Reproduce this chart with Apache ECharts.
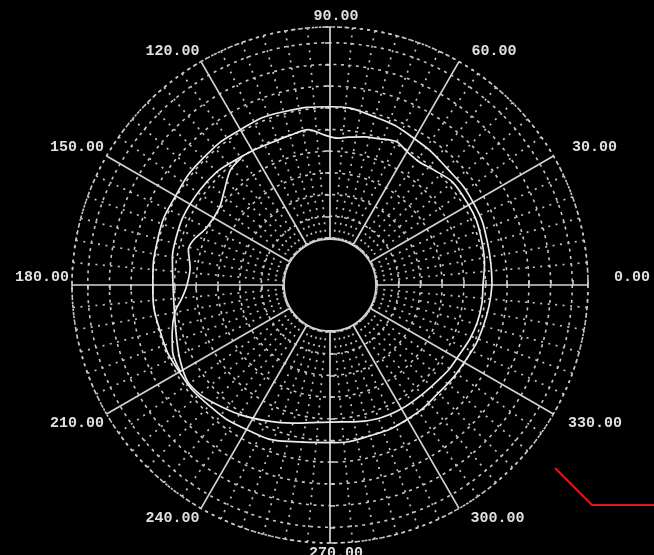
<!DOCTYPE html>
<html>
<head>
<meta charset="utf-8">
<script src="https://cdn.jsdelivr.net/npm/echarts@6/dist/echarts.min.js"></script>
<style>
html,body{margin:0;padding:0;background:#000;}
#chart{width:654px;height:555px;}
</style>
</head>
<body>
<div id="chart"></div>
<script>
// ---- data (radial unit: 20 per ring, 0 = edge of the centre hole) ----
const angleTickLabels = ['0.00','30.00','60.00','90.00','120.00','150.00','180.00','210.00','240.00','270.00','300.00','330.00'];

const outerAngles = [0,15,30,45,60,75,90,105,120,135,150,165,180,195,210,225,240,255,270,285,300,315,330,345,360];
const outerRadii  = [106,107,109,109,112.4,117,121,122,122,122,121,121,120,119,117,114,110.5,106,102,100.5,99.5,97.7,99.5,103,106];

const profileAngles = [0,8,16,24,30,40,48,54,60,65,72,77,83,87,92,98,105,112,120,128,135,144,155,163,170,180,190,200,207,214,220,226,235,245,255,262,270,280,290,300,310,318,325,332,339,346,353,360];
const profileRadii  = [97.7,100.5,102.3,104.2,104.2,104.2,99.5,96.8,98.6,102.3,98.6,96.8,94,92.2,94.9,101.4,99.5,98.6,99.5,101.4,104.2,105.1,106,105.1,104.2,101.4,102.3,106.9,111.5,115.2,113.4,108.8,102.3,94.9,88.5,84.8,83,84.8,87.6,88.5,88.5,89.4,91.2,92.2,94.9,96.8,97.7,97.7];

const innerAngles = [125,131,138,145,155,162,166,173,180,185,190,197,203,210];
const innerRadii  = [99.5,96.8,87.6,81.1,82,89.4,91.2,86.6,88.5,93.6,101.8,108.8,114.3,116];

// ---- layout / style ----
const CENTER = [330, 285];
const RADIUS = [47, 258];
const R_MIN = 0, R_MAX = 194.5, R_STEP = 20;
const GRID = '#d2d2d2';
const labelPads = [[0,0,16,23],[0,0,0,16],[0,0,0,11],[0,0,0,12],[0,0,0,0],[0,0,0,0],[0,0,16,0],[0,0,0,0],[0,0,0,0],[0,0,0,12],[0,0,0,10],[0,0,0,12]];
const FONT = {fontFamily:'Liberation Mono', fontSize:15, fontWeight:'bold', color:'#e0e0e0'};

const rich = {};
labelPads.forEach((p,i)=>{ rich['l'+i] = Object.assign({padding:p}, FONT); });

const polars = [{center:CENTER, radius:RADIUS}];
const angleAxes = [{
  polarIndex:0, type:'value', min:0, max:360, interval:30, startAngle:0, clockwise:false,
  axisLine:{show:true, lineStyle:{color:'#c8c8c8', width:1.6, type:[2.5,4.5]}},
  axisTick:{show:false},
  axisLabel:{show:true, margin:3, formatter:function(v){const i=Math.round(v/30)%12;return '{l'+i+'|'+angleTickLabels[i]+'}';}, rich:rich},
  splitLine:{show:true, lineStyle:{color:GRID, width:1.7, type:'solid'}},
  minorTick:{show:false, splitNumber:6},
  minorSplitLine:{show:true, lineStyle:{color:'#c0c0c0', width:1.7, type:[2,5.5]}}
}];
const radiusAxes = [{
  polarIndex:0, type:'value', min:R_MIN, max:R_MAX, interval:R_STEP,
  axisLine:{show:false}, axisTick:{show:false}, axisLabel:{show:false},
  splitLine:{show:true, lineStyle:{color:'#c8c8c8', width:1.6, type:[3,4.5]}}
}];

// tick marks on the four main spokes (both sides)
[0,90,180,270].forEach(a=>{
  [true,false].forEach(inside=>{
    const idx = polars.length;
    polars.push({center:CENTER, radius:RADIUS});
    angleAxes.push({polarIndex:idx, type:'value', min:0, max:360, startAngle:a, clockwise:false, show:false});
    radiusAxes.push({polarIndex:idx, type:'value', min:R_MIN, max:R_MAX, interval:R_STEP,
      axisLine:{show:false}, axisLabel:{show:false}, splitLine:{show:false},
      axisTick:{show:true, inside:inside, length:5, lineStyle:{color:GRID, width:1.5}}});
  });
});
// solid edge of the centre hole
{
  const idx = polars.length;
  polars.push({center:CENTER, radius:[0, RADIUS[0]-1]});
  angleAxes.push({polarIndex:idx, type:'value', min:0, max:360, startAngle:0,
    axisLine:{show:true, lineStyle:{color:GRID, width:1.8}}, axisTick:{show:false}, axisLabel:{show:false}, splitLine:{show:false}});
  radiusAxes.push({polarIndex:idx, type:'value', show:false});
}

function pairs(rs, as){ return rs.map((r,i)=>[r, as[i]]); }
const curveStyle = {color:'#ececec', width:1.7};

const option = {
  backgroundColor:'#000',
  animation:false,
  polar:polars,
  angleAxis:angleAxes,
  radiusAxis:radiusAxes,
  series:[
    {type:'line', coordinateSystem:'polar', polarIndex:0, data:pairs(outerRadii, outerAngles), smooth:0.5, showSymbol:false, lineStyle:curveStyle, z:5},
    {type:'line', coordinateSystem:'polar', polarIndex:0, data:pairs(profileRadii, profileAngles), smooth:0.3, showSymbol:false, lineStyle:curveStyle, z:5},
    {type:'line', coordinateSystem:'polar', polarIndex:0, data:pairs(innerRadii, innerAngles), smooth:0.3, showSymbol:false, lineStyle:curveStyle, z:5}
  ],
  graphic:[{type:'polyline', shape:{points:[[555,468],[592,505],[654,505]]}, style:{stroke:'#e01818', lineWidth:2, fill:null}, silent:true}]
};

const chart = echarts.init(document.getElementById('chart'), null, {renderer:'canvas'});
chart.setOption(option);
</script>
</body>
</html>
